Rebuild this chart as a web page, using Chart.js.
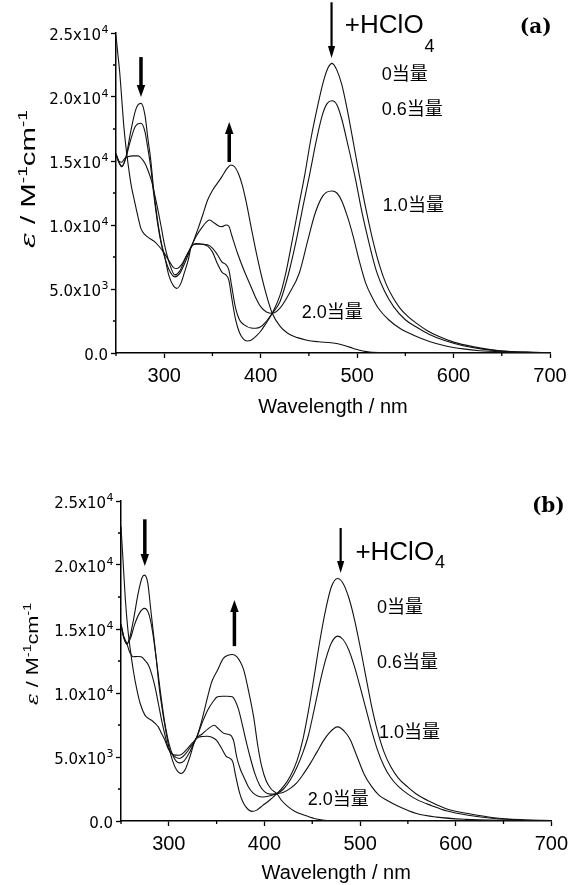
<!DOCTYPE html>
<html>
<head>
<meta charset="utf-8">
<script src="https://cdn.jsdelivr.net/npm/chart.js@4.4.1/dist/chart.umd.min.js"></script>
<style>
  html, body { margin: 0; padding: 0; background: #fff; }
  canvas { position: absolute; left: 0; }
  #chartA { top: 0; }
  #chartB { top: 440px; }
</style>
</head>
<body>
<canvas id="chartA" width="574" height="430"></canvas>
<canvas id="chartB" width="574" height="445"></canvas>
<script>
// ---- data (wavelength in nm, epsilon in M-1 cm-1) ----
const doseLabels = ['0当量', '0.6当量', '1.0当量', '2.0当量'];
const yTickValues = [0, 5000, 10000, 15000, 20000, 25000];
const yTickMantissa = ['0.0', '5.0x10', '1.0x10', '1.5x10', '2.0x10', '2.5x10'];
const yTickExponent = ['', '3', '4', '4', '4', '4'];

// panel (a)
const waveA0 = [250,253,256,260,265,270,273,276,280,283,286,289,293,297,300,305,310,313,317,321,325,328,333,340,345,350,355,360,364,367,370,374,378,382,386,390,395,400,405,412,420,426,432,439,446,452,459,465,470,474,479,484,489,495,502,509,516,523,530,537,544,552,561,572,585,600,620,651,675,700];
const epsA0 = [15500,14900,14550,15200,17200,18900,19400,19500,18600,16800,15100,12800,10400,8600,7700,6000,5200,5050,5400,6300,7300,8300,8550,8500,8350,7900,7000,6300,6100,5700,4300,2600,1600,1100,940,1000,1300,1700,2250,3100,4500,6230,8500,11300,14040,16700,19270,21200,22300,22630,22100,21000,19300,16900,14000,11300,8900,6900,5400,4350,3550,2900,2350,1780,1280,850,500,150,70,30];

const waveA06 = [250,253,256,260,265,270,276,280,283,286,289,293,297,300,305,311,316,320,325,328,333,340,345,350,355,360,364,367,370,374,378,383,390,395,400,405,412,420,429,437,444,451,458,464,469,474,479,484,490,498,505,512,520,528,538,550,561,575,590,610,630,650,675,700];
const epsA06 = [15500,14900,14600,15200,16600,17700,17950,17300,16000,14500,12500,10200,8500,7600,6500,5950,6200,6800,7700,8300,8500,8500,8450,8200,7700,7100,6900,6500,5200,3500,2600,2200,1950,1930,2050,2400,3100,4000,6230,8830,11500,14040,16700,18600,19500,19710,19400,18300,16400,13700,11000,8700,6400,4900,3600,2600,2050,1450,1000,570,300,150,60,30];

const waveA10 = [250,253,256,259,263,268,273,277,280,283,287,290,293.5,297,300,305,311,316,322,328,333,340,347,352,357,360,364,367,370,376,383,390,395,400,406,412,420,430,440,449,456,463,468,474,479,484,490,496,502,509,516,522,533,545,558,575,592,610,627,650,675,700];
const epsA10 = [15600,15000,14900,15200,15350,15400,15400,15150,14820,14300,13400,12400,11170,9800,8570,7100,6100,6400,7400,8300,9100,9900,10390,10150,9900,9870,10000,9900,9200,7790,6400,5180,4300,3620,3200,3100,3500,4700,6230,8830,10800,12100,12550,12660,12500,11900,10650,9090,7270,5440,4300,3500,2580,1900,1410,900,550,320,180,90,45,25];

const waveA20 = [250,252,254,256,258,260,263,266,269,272,276,280,285,290,295,300,305,310,313,318,323,328,335,340,345,350,355,360,365,369,373,377,381,385,390,395,400,405,412,420,428,438,448,460,473,480,486,493,499,506,513,530,560,700];
const epsA20 = [24800,23300,21800,19800,17800,16300,14500,13000,11950,10900,9700,9250,8950,8700,8300,7800,7200,6650,6600,6900,7600,8300,9700,10800,11950,12700,13250,13800,14400,14690,14550,14000,13100,11800,9870,8000,6300,4800,3100,2100,1540,1200,1000,880,800,720,600,440,290,160,80,30,10,0];

// panel (b)
const waveB0 = [250,253,256,259,263,268,272,274.5,278,281,284,287,290,293,296,300,304,308,313,317,322,328.6,335,340,345,350,355,360,364,367,370,374,378,383,387,392,398,405,413,420,427,434,440,446,452,458,464,470,476.5,482,488,494,500,506,512,518,525,532,540,550,560,573,590,613,640,670,700];
const epsB0 = [15300,14300,13800,14300,15700,17800,19000,19210,18600,16600,14600,12600,10400,8800,7400,5800,4700,4000,3710,4000,5000,6440,6600,6620,6550,6300,5700,5050,4900,4600,3500,2200,1400,900,750,850,1200,1600,2140,2700,3500,4700,6300,8600,11300,14100,16500,18300,18950,18600,17500,15800,13650,11300,9000,7100,5400,4250,3350,2650,2050,1520,960,580,250,100,40];

const waveB06 = [250,253,256,260,264,269,274.5,279,283,287,291,295.5,300,305,311,316,322,328.6,335,341,347.5,352,358,364.6,368,371,375,378.4,383,388,393,398,405,413,420,427,434,440,446,452,458,464,470,476.5,482,488,494,500,506,512,518,525,532,540,550,560,575,590,613,640,670,700];
const epsB06 = [15300,14300,13850,14300,15300,16200,16610,16200,14800,12600,10200,7800,6100,5000,4540,4700,5400,6440,6800,7200,7480,7200,6830,6700,6200,5000,4000,3440,2700,2200,1950,1880,1950,2140,2500,3200,4200,5300,6700,8700,10800,12600,13900,14440,14200,13400,12100,10500,8800,7100,5600,4300,3400,2700,2100,1650,1200,800,450,200,80,30];

const waveB10 = [250,253,256,259,263,267,271,275,278.7,282,285.6,289,292.5,296,299,305,311,317,322,328.6,335,340.6,346,350.9,356,361,366.4,370,373,376,380,385,390,395,400,406,413,420,427,434,441,448,455,462,468,473,476.5,480,486,490,496,504,512,520,528,540,559,580,610,650,700];
const epsB10 = [15400,14400,13900,13200,12830,12850,12830,12550,12180,11500,10480,9200,7870,6700,5790,5100,4880,5200,5700,6440,7700,8660,9300,9700,9750,9750,9700,9300,8700,7800,6500,5000,3700,2800,2300,2100,2140,2250,2550,3000,3700,4500,5400,6300,6900,7250,7350,7250,6800,6310,5200,3700,2700,2000,1620,1150,580,300,130,50,20];

const waveB20 = [250,252,254.6,257,259.8,263,266.7,270,275,279,282,286,289,292,296,299,302.8,307,311,315,320,324,328.6,335,340.6,345,350.9,357,362,366.4,371,375,378.4,383,388.7,393,397.3,402,407,413,418,424.9,432,441.9,452,462.6,480,700];
const epsB20 = [23000,20500,17260,15100,13350,11700,10220,9200,8270,8000,7870,7600,7350,6900,6310,5700,5270,5150,5140,5300,5700,6050,6440,8000,9700,10900,11780,12700,12950,13010,12850,12400,11780,10300,8130,5900,4200,3100,2500,2140,1600,1100,750,450,200,60,10,0];

// ---- helpers ----
const SANS = '"Liberation Sans", Arial, sans-serif';

function toPoints(wave, eps) {
  return wave.map((w, i) => ({ x: w, y: eps[i] }));
}

function series(wave, eps) {
  return {
    data: toPoints(wave, eps),
    borderColor: '#111',
    borderWidth: 1.1,
    pointRadius: 0,
    fill: false,
    cubicInterpolationMode: 'monotone'
  };
}

function arrow(ctx, x, y0, y1, w) {
  const dir = y1 > y0 ? 1 : -1;
  const head = 12, half = w / 2 + 2.5;
  ctx.lineWidth = w;
  ctx.beginPath();
  ctx.moveTo(x, y0);
  ctx.lineTo(x, y1 - dir * (head - 1));
  ctx.stroke();
  ctx.beginPath();
  ctx.moveTo(x, y1);
  ctx.lineTo(x - half, y1 - dir * head);
  ctx.lineTo(x + half, y1 - dir * head);
  ctx.closePath();
  ctx.fill();
}

function yTitle(ctx, t) {
  const base = `${t.size}px ${SANS}`;
  const sup = `${Math.round(t.size * 0.66)}px ${SANS}`;
  const parts = [
    ['ε', `italic ${t.size}px "DejaVu Serif", serif`, 0],
    [' / M', base, 0],
    ['-1', sup, -t.size * 0.42],
    ['cm', base, 0],
    ['-1', sup, -t.size * 0.42]
  ];
  let total = 0;
  parts.forEach(p => { ctx.font = p[1]; p.push(ctx.measureText(p[0]).width); total += p[3]; });
  const k = t.len / total;
  ctx.save();
  ctx.translate(t.x, t.y);
  ctx.rotate(-Math.PI / 2);
  ctx.scale(k, 1);
  ctx.textAlign = 'left';
  ctx.textBaseline = 'alphabetic';
  let cx = -total / 2;
  const by = t.size * 0.36;
  parts.forEach(p => { ctx.font = p[1]; ctx.fillText(p[0], cx, by + p[2]); cx += p[3]; });
  ctx.restore();
}

// y tick labels with a real superscript exponent
function yLabels(ctx, ys, right) {
  const main = '15px "DejaVu Sans", sans-serif';
  const sup = '11px "DejaVu Sans", sans-serif';
  ctx.textBaseline = 'alphabetic';
  ctx.textAlign = 'left';
  yTickValues.forEach((v, i) => {
    const base = ys.getPixelForValue(v) + 7;
    ctx.font = sup;
    const we = ctx.measureText(yTickExponent[i]).width;
    ctx.font = main;
    const wm = ctx.measureText(yTickMantissa[i]).width;
    const x0 = right - we - wm;
    ctx.fillText(yTickMantissa[i], x0, base);
    if (yTickExponent[i]) {
      ctx.font = sup;
      ctx.fillText(yTickExponent[i], x0 + wm + 0.5, base - 7);
    }
  });
}

// annotations: arrows, reagent, panel letter, dose labels, minor ticks, y labels
function notes(cfg) {
  return {
    id: 'notes',
    afterDraw(chart) {
      const ctx = chart.ctx, xs = chart.scales.x, ys = chart.scales.y, area = chart.chartArea;
      const px = v => xs.getPixelForValue(v), py = v => ys.getPixelForValue(v);
      ctx.save();
      ctx.strokeStyle = '#000';
      ctx.fillStyle = '#000';

      // minor ticks (half length)
      ctx.lineWidth = 1.3;
      ctx.beginPath();
      xs.ticks.forEach(t => {
        if (t.value % 100 !== 0) { const p = px(t.value); ctx.moveTo(p, area.bottom); ctx.lineTo(p, area.bottom + 3); }
      });
      ys.ticks.forEach(t => {
        if (t.value % 5000 !== 0) { const p = py(t.value); ctx.moveTo(area.left, p); ctx.lineTo(area.left - 3, p); }
      });
      ctx.stroke();

      yLabels(ctx, ys, area.left - 8);

      cfg.arrows.forEach(a => arrow(ctx, px(a[0]), py(a[1]), py(a[2]), a[3]));

      ctx.textAlign = 'left';
      ctx.textBaseline = 'alphabetic';
      ctx.font = `26px ${SANS}`;
      const hx = px(cfg.acid[0]), hy = py(cfg.acid[1]);
      ctx.fillText('+HClO', hx, hy);
      const w = ctx.measureText('+HClO').width;
      ctx.font = `18px ${SANS}`;
      ctx.fillText('4', hx + w + 1, hy + cfg.subDrop);

      ctx.textBaseline = 'middle';
      ctx.font = 'bold 20px "DejaVu Serif", serif';
      ctx.fillText(cfg.letter, px(cfg.letterPos[0]), py(cfg.letterPos[1]));

      ctx.font = `18px "Liberation Sans", "Noto Sans CJK JP", sans-serif`;
      doseLabels.forEach((t, i) => ctx.fillText(t, px(cfg.doses[i][0]), py(cfg.doses[i][1])));

      yTitle(ctx, cfg.yTitle);
      ctx.restore();
    }
  };
}

function makeChart(id, datasets, geo, cfg) {
  return new Chart(document.getElementById(id), {
    type: 'line',
    data: { datasets },
    options: {
      responsive: false,
      animation: false,
      layout: { padding: geo.padding },
      plugins: { legend: { display: false }, tooltip: { enabled: false } },
      scales: {
        x: {
          type: 'linear', min: 250, max: 700,
          ticks: {
            stepSize: 50, autoSkip: false, maxRotation: 0, padding: 6, color: '#000',
            font: { family: SANS, size: 20 },
            callback: v => (v % 100 === 0 ? String(v) : '')
          },
          grid: {
            drawOnChartArea: false, drawTicks: true, tickLength: 5, tickWidth: 1.3,
            tickColor: c => (c.tick && c.tick.value % 100 === 0 ? '#000' : 'rgba(0,0,0,0)')
          },
          border: { color: '#000', width: 1.5 },
          title: { display: true, text: 'Wavelength / nm', color: '#000', font: { family: SANS, size: 20 }, padding: 0 },
          afterFit: s => { s.height = geo.xh; }
        },
        y: {
          type: 'linear', min: 0, max: 25000,
          ticks: { stepSize: 2500, autoSkip: false, display: false },
          grid: {
            drawOnChartArea: false, drawTicks: true, tickLength: 5, tickWidth: 1.3,
            tickColor: c => (c.tick && c.tick.value % 5000 === 0 ? '#000' : 'rgba(0,0,0,0)')
          },
          border: { color: '#000', width: 1.5 },
          afterFit: s => { s.width = geo.yw; }
        }
      }
    },
    plugins: [notes(cfg)]
  });
}

makeChart('chartA',
  [series(waveA0, epsA0), series(waveA06, epsA06), series(waveA10, epsA10), series(waveA20, epsA20)],
  { padding: { left: 0, right: 24, top: 33, bottom: 11 }, xh: 66, yw: 116 },
  {
    arrows: [[275.9, 23120, 20000, 3.5], [367.4, 14920, 18050, 3.5], [473.5, 27400, 23050, 2.2]],
    acid: [487.3, 25000], subDrop: 19,
    letter: '(a)', letterPos: [668.7, 25430],
    doses: [[525.6, 21720], [525.6, 18980], [526.7, 11480], [442.7, 3160]],
    yTitle: { x: 28, y: 179, size: 20, len: 138 }
  });

makeChart('chartB',
  [series(waveB0, epsB0), series(waveB06, epsB06), series(waveB10, epsB10), series(waveB20, epsB20)],
  { padding: { left: 0, right: 17, top: 61, bottom: 0 }, xh: 64, yw: 121 },
  {
    arrows: [[274.9, 23570, 19920, 3.5], [368.6, 13660, 17260, 3.5], [479.7, 22890, 19370, 2.2]],
    acid: [495.1, 20390], subDrop: 8,
    letter: '(b)', letterPos: [679.7, 24530],
    doses: [[517.6, 16630], [517.6, 12330], [519.7, 6860], [445.3, 1620]],
    yTitle: { x: 32, y: 214, size: 17, len: 102 }
  });
</script>
</body>
</html>
